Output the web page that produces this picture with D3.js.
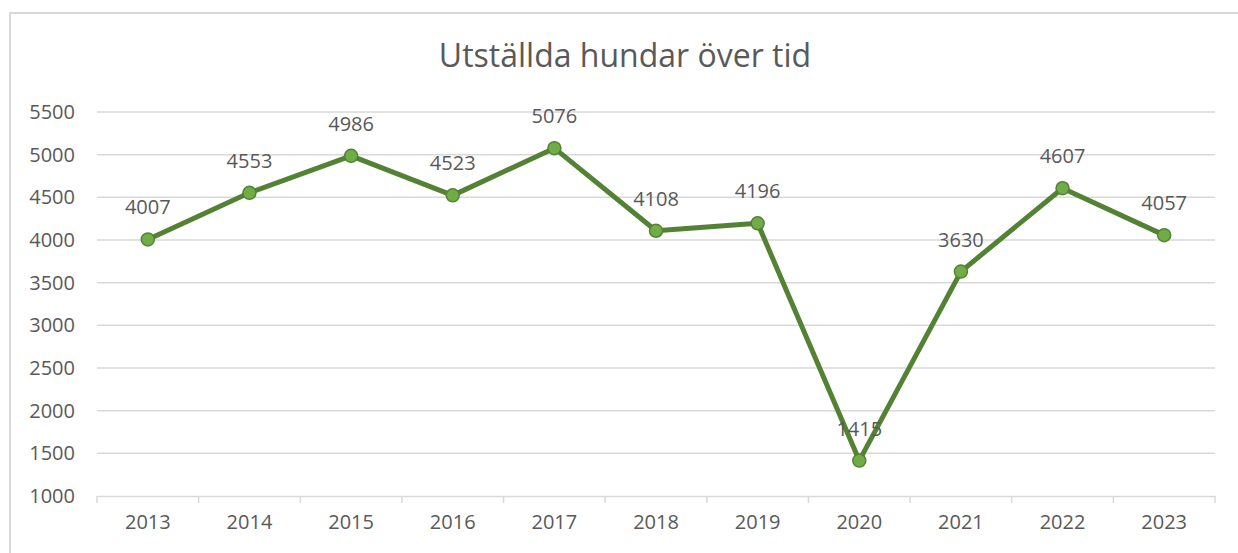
<!DOCTYPE html>
<html><head><meta charset="utf-8">
<script src="https://cdn.jsdelivr.net/npm/d3@7"></script>
<style>html,body{margin:0;padding:0;background:#fff;}svg{display:block;}</style>
</head><body>
<svg id="c" width="1238" height="553"></svg>
<script>
const years = ["2013","2014","2015","2016","2017","2018","2019","2020","2021","2022","2023"];
const values = [4007,4553,4986,4523,5076,4108,4196,1415,3630,4607,4057];
const yTicks = [1000,1500,2000,2500,3000,3500,4000,4500,5000,5500];
const title = "Utställda hundar över tid";

const svg = d3.select("#c");
const font = "'Open Sans', 'Noto Sans', sans-serif";
const textCol = "#595959";
const gridCol = "#d9d9d9";

// chart border
svg.append("rect").attr("x",10).attr("y",13).attr("width",1240).attr("height",560)
  .attr("fill","none").attr("stroke",gridCol).attr("stroke-width",2);

const pLeft = 97, pRight = 1215, pTop = 112, pBottom = 496;
const x = d3.scaleBand().domain(years).range([pLeft,pRight]).padding(0);
const y = d3.scaleLinear().domain([1000,5500]).range([pBottom,pTop]);

// title
svg.append("text").attr("x",625).attr("y",67).attr("text-anchor","middle")
  .attr("font-family",font).attr("font-size",32).attr("fill",textCol).text(title);

// gridlines
svg.append("g").selectAll("line").data(yTicks.filter(d=>d>1000)).join("line")
  .attr("x1",pLeft).attr("x2",pRight).attr("y1",d=>y(d)).attr("y2",d=>y(d))
  .attr("stroke",gridCol).attr("stroke-width",1.5);

// y axis labels
const yAxis = d3.axisLeft(y).tickValues(yTicks).tickFormat(d3.format("d")).tickSize(0).tickPadding(22);
const gy = svg.append("g").attr("transform",`translate(${pLeft},0)`).call(yAxis);
gy.select(".domain").remove();
gy.selectAll("text").attr("font-family",font).attr("font-size",20).attr("fill",textCol);

// x axis
const xAxis = d3.axisBottom(x).tickSize(0).tickPadding(19);
const gx = svg.append("g").attr("transform",`translate(0,${pBottom})`).call(xAxis);
gx.select(".domain").attr("stroke",gridCol).attr("stroke-width",1.5);
gx.selectAll("text").attr("font-family",font).attr("font-size",20).attr("fill",textCol);
// band boundary ticks
const bounds = years.map(d=>x(d)).concat([x(years[years.length-1])+x.bandwidth()]);
svg.append("g").selectAll("line").data(bounds).join("line")
  .attr("x1",d=>d).attr("x2",d=>d).attr("y1",pBottom).attr("y2",pBottom+7)
  .attr("stroke",gridCol).attr("stroke-width",1.5);

const cx = d=>x(d)+x.bandwidth()/2;
const data = years.map((yr,i)=>({yr, v:values[i]}));

svg.append("path").datum(data)
  .attr("d", d3.line().x(d=>cx(d.yr)).y(d=>y(d.v)))
  .attr("fill","none").attr("stroke","#548235").attr("stroke-width",5).attr("stroke-linejoin","round");

svg.append("g").selectAll("circle").data(data).join("circle")
  .attr("cx",d=>cx(d.yr)).attr("cy",d=>y(d.v)).attr("r",6.5)
  .attr("fill","#70ad47").attr("stroke","#548235").attr("stroke-width",1.5);

svg.append("g").selectAll("text").data(data).join("text")
  .attr("x",d=>cx(d.yr)).attr("y",d=>y(d.v)-25).attr("text-anchor","middle")
  .attr("font-family",font).attr("font-size",20).attr("fill",textCol).text(d=>d.v);
</script>
</body></html>
